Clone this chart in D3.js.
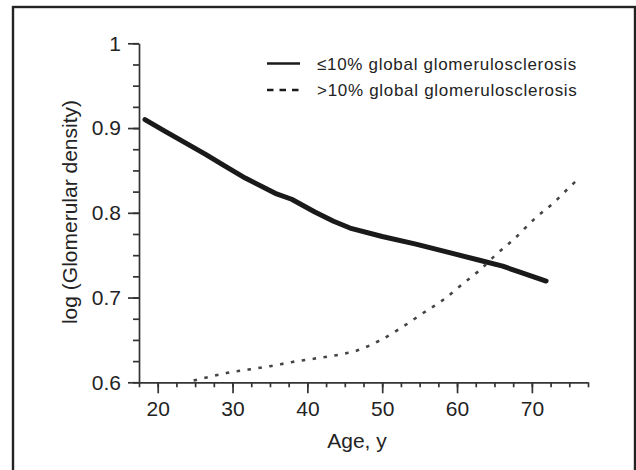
<!DOCTYPE html>
<html>
<head>
<meta charset="utf-8">
<script src="https://cdn.jsdelivr.net/npm/d3@7"></script>
<style>
  body { margin: 0; background: #fff; }
  svg { display: block; font-family: "Liberation Sans", Arial, sans-serif; }
</style>
</head>
<body>
<svg id="chart" width="636" height="470"></svg>
<script>
// values
var lowAges = [18.3, 21, 24, 26.4, 29, 31.7, 35.7, 37.9, 41, 43.5, 45.7, 50, 54.5, 59, 63, 66.1, 68.4, 71.9];
var lowVals = [0.910, 0.896, 0.881, 0.869, 0.855, 0.841, 0.823, 0.816, 0.801, 0.790, 0.782, 0.772, 0.763, 0.753, 0.744, 0.737, 0.730, 0.7195];

var highAges = [24.8, 26.2, 29.2, 32.1, 35.0, 38.0, 41.0, 43.9, 46.8, 49.6, 52.4, 55.0, 58.4, 60.8, 63.0, 65.0, 67.5, 70.6, 73.0, 75.0, 76.2];
var highVals = [0.602, 0.605, 0.611, 0.615, 0.619, 0.624, 0.628, 0.632, 0.638, 0.649, 0.6635, 0.679, 0.699, 0.7165, 0.732, 0.749, 0.768, 0.795, 0.8125, 0.830, 0.840];

var xTicks = [20, 30, 40, 50, 60, 70];
var yTicks = [0.6, 0.7, 0.8, 0.9, 1];
var yTickLabels = ['0.6', '0.7', '0.8', '0.9', '1'];
var legendLabels = ['\u226410% global glomerulosclerosis', '>10% global glomerulosclerosis'];

var svg = d3.select('#chart');
var ink = '#232323';

// outer frame (bottom edge cut off in the original)
svg.append('rect')
    .attr('x', 13).attr('y', 7)
    .attr('width', 622).attr('height', 480)
    .attr('fill', 'none')
    .attr('stroke', ink)
    .attr('stroke-width', 2.4);

var x = d3.scaleLinear().domain([17.5, 77.5]).range([139, 588]);
var y = d3.scaleLinear().domain([0.6, 1]).range([382.3, 43.3]);

function styleAxis(g) {
    g.selectAll('path, line').attr('stroke', '#333').attr('stroke-width', 1.7);
    g.selectAll('text').attr('fill', ink).attr('font-size', 21);
}

// minor ticks
svg.append('g')
    .attr('transform', 'translate(0,' + y(0.6) + ')')
    .call(d3.axisBottom(x).tickValues(d3.range(17.5, 77.6, 2.5)).tickSize(5).tickFormat(''))
    .call(styleAxis)
    .call(function (g) { g.select('.domain').remove(); });

svg.append('g')
    .attr('transform', 'translate(' + x(17.5) + ',0)')
    .call(d3.axisLeft(y).tickValues(d3.range(0.6, 1.001, 0.025)).tickSize(6).tickFormat(''))
    .call(styleAxis)
    .call(function (g) { g.select('.domain').remove(); });

// major ticks + labels
svg.append('g')
    .attr('transform', 'translate(0,' + y(0.6) + ')')
    .call(d3.axisBottom(x).tickValues(xTicks).tickSize(11).tickSizeOuter(0).tickPadding(8))
    .call(styleAxis);

svg.append('g')
    .attr('transform', 'translate(' + x(17.5) + ',0)')
    .call(d3.axisLeft(y).tickValues(yTicks).tickSize(11).tickSizeOuter(0).tickPadding(7)
        .tickFormat(function (d, i) { return yTickLabels[i]; }))
    .call(styleAxis);

// axis titles
svg.append('text')
    .attr('x', 357).attr('y', 448)
    .attr('text-anchor', 'middle')
    .attr('font-size', 21)
    .attr('fill', ink)
    .text('Age, y');

svg.append('text')
    .attr('transform', 'translate(77,212) rotate(-90)')
    .attr('text-anchor', 'middle')
    .attr('font-size', 21)
    .attr('fill', ink)
    .text('log (Glomerular density)');

// curves
var line = d3.line()
    .x(function (d) { return x(d[0]); })
    .y(function (d) { return y(d[1]); });

svg.append('path')
    .datum(d3.zip(lowAges, lowVals))
    .attr('d', line)
    .attr('fill', 'none')
    .attr('stroke', '#1a1a1a')
    .attr('stroke-width', 5)
    .attr('stroke-linejoin', 'round')
    .attr('stroke-linecap', 'round');

svg.append('path')
    .datum(d3.zip(highAges, highVals))
    .attr('d', line.curve(d3.curveMonotoneX))
    .attr('fill', 'none')
    .attr('stroke', '#444')
    .attr('stroke-width', 2.6)
    .attr('stroke-dasharray', '3.5 7.5');

// legend
var legend = svg.append('g');
var legendRows = [{ y: 63.5, dash: null }, { y: 90, dash: '6.5 6' }];

legendRows.forEach(function (r, i) {
    legend.append('line')
        .attr('x1', 267).attr('x2', 300)
        .attr('y1', r.y).attr('y2', r.y)
        .attr('stroke', '#1a1a1a')
        .attr('stroke-width', 2.6)
        .attr('stroke-dasharray', r.dash);
    legend.append('text')
        .attr('x', 317).attr('y', r.y + 6)
        .attr('font-size', 17)
        .attr('letter-spacing', 0.7)
        .attr('fill', ink)
        .text(legendLabels[i]);
});
</script>
</body>
</html>
